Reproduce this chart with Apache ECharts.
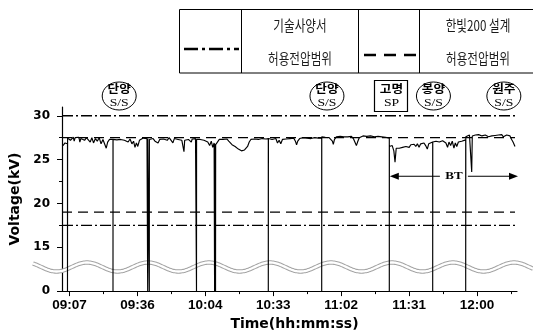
<!DOCTYPE html>
<html><head><meta charset="utf-8">
<script src="https://cdn.jsdelivr.net/npm/echarts@6/dist/echarts.min.js"></script>
<style>html,body{margin:0;padding:0;background:#fff}#c{width:533px;height:336px}</style>
</head><body><div id="c"></div>
<script>
// ---- data (x in minutes after 09:00, y in kV) ----
const xTickMinutes = [7, 35.83, 64.67, 93.5, 122.33, 151.17, 180];
const xTickLabels = ['09:07', '09:36', '10:04', '10:33', '11:02', '11:31', '12:00'];
const xMinorMinutes = [21.42, 50.25, 79.08, 107.92, 136.75, 165.58, 194.42];
const yTickValues = [0, 15, 20, 25, 30];
const yMinorValues = [17.5, 22.5, 27.5];
const specLimits = [30, 17.5];      // 기술사양서 허용전압범위
const hanbitLimits = [27.5, 19];    // 한빛200 설계 허용전압범위
const stationNames = [['단양', 'S/S'], ['단양', 'S/S'], ['고명', 'SP'], ['봉양', 'S/S'], ['원주', 'S/S']];
const stationMinutes = [28.1, 116.3, 143.7, 161.5, 191.4];
const btRange = [142.77, 197.4];
const voltageTrace = [
 [4.24,26.6],[5.1,26.9],[5.9,26.7],[6.15,26.8],[6.15,0],[6.2,27.45],
 [7.0,27.6],[7.4,27.2],[7.8,27.35],[8.6,27.55],[9.0,27.1],[9.4,27.5],[10.2,27.3],[11.0,27.55],[11.4,27.0],[11.8,27.4],[12.6,27.6],[13.4,27.2],
 [14.2,27.5],[15.0,27.45],[15.8,27.0],[16.5,27.5],[17.2,26.9],[18.0,27.4],[18.8,27.1],[19.6,27.5],[20.4,26.8],
 [21.2,27.3],[22.0,27.2],[22.6,26.3],[23.2,27.0],[24.0,27.3],[24.8,27.35],[25.47,27.3],[25.47,0],[25.5,27.3],
 [26.3,27.4],[27.1,27.25],[27.9,27.45],[28.7,27.3],[29.5,27.5],[30.3,27.2],[31.1,27.4],[31.9,27.0],[32.7,27.35],
 [33.5,26.8],[34.2,27.1],[34.8,26.4],[35.4,26.9],[36.0,26.5],[36.7,27.2],[37.5,27.3],[38.3,27.45],[39.1,27.35],
 [39.9,27.4],[40.2,27.4],[40.2,0],[40.25,27.4],[40.5,27.35],[40.88,27.3],[40.88,0],[40.92,27.3],
 [41.7,27.2],[42.5,27.4],[43.3,27.1],[44.1,27.3],[44.6,26.9],[45.3,27.3],[46.1,27.5],[46.9,27.35],[47.7,27.45],
 [48.5,27.2],[49.3,27.5],[50.1,27.4],[50.9,26.9],[51.5,27.4],[52.3,27.5],[53.1,27.3],[53.9,27.45],[54.7,27.2],
 [55.3,27.4],[55.6,25.9],[55.9,27.2],[56.7,27.4],[57.5,27.3],[58.3,27.5],[58.7,27.0],[59.1,27.35],[59.9,27.2],[60.5,27.4],
 [60.92,27.3],[60.92,0],[60.95,27.3],
 [61.7,27.5],[62.5,27.3],[63.3,27.45],[64.1,27.2],[64.9,27.4],[65.7,27.0],[66.5,26.6],[67.2,27.1],[67.8,26.4],
 [68.4,26.9],[68.6,26.7],[68.6,0],[68.65,26.8],[69.0,26.5],[69.0,0],[69.05,26.7],
 [69.8,27.0],[70.6,27.3],[71.4,27.45],[72.2,27.3],[73.0,27.4],[73.8,27.35],[74.6,27.1],[75.4,27.2],[76.0,26.7],
 [76.7,26.9],[77.3,26.5],[78.0,26.6],[78.7,26.2],[79.3,26.4],[80.0,26.0],[80.7,25.8],[81.3,26.1],[81.9,25.9],
 [82.6,26.5],[83.3,27.0],[84.0,27.3],[84.8,27.4],[85.6,27.35],[86.4,27.5],[87.2,27.3],[88.0,27.45],[88.8,27.4],
 [89.6,27.5],[90.4,27.35],[91.4,27.4],[91.4,0],[91.45,27.4],
 [92.2,27.5],[93.0,27.3],[93.8,27.45],[94.6,27.4],[95.3,26.9],[96.0,27.2],[96.7,26.8],[97.4,27.3],[98.2,27.5],
 [99.0,27.35],[99.8,27.45],[100.6,27.4],[101.4,27.3],[102.2,27.45],[102.9,27.1],[103.4,26.7],[103.9,27.1],
 [104.7,27.4],[105.5,27.45],[106.3,27.5],[107.1,27.4],[107.9,27.45],[108.7,27.5],[109.5,27.4],[110.3,27.45],
 [111.1,27.5],[111.9,27.4],[112.7,27.45],[113.4,27.5],[114.07,27.45],[114.07,0],[114.1,27.6],
 [114.8,27.7],[115.6,27.55],[116.4,27.65],[117.2,27.5],[118.0,27.6],[118.6,27.1],[119.0,26.75],[119.5,27.3],
 [120.3,27.6],[121.1,27.5],[121.9,27.65],[122.7,27.55],[123.5,27.6],[124.3,27.45],[125.1,27.6],[125.9,27.5],
 [126.7,27.65],[127.5,27.4],[128.2,27.2],[128.8,26.6],[129.3,27.0],[130.0,27.5],[130.8,27.6],[131.6,27.7],
 [132.4,27.5],[133.2,27.65],[134.0,27.55],[134.8,27.7],[135.6,27.5],[136.4,27.6],[137.2,27.45],[138.0,27.65],
 [138.8,27.5],[139.6,27.6],[140.4,27.4],[141.2,27.55],[142.0,27.5],[142.77,27.45],[142.77,0],[142.8,26.5],
 [143.3,26.4],[144.0,26.6],[144.7,26.0],[145.2,24.7],[145.7,26.3],[146.3,26.5],[147.0,26.3],[147.7,26.5],
 [148.4,26.4],[149.1,26.6],[149.8,26.5],[150.5,26.55],[151.2,26.4],[151.9,26.7],[152.6,26.6],[153.3,26.75],
 [154.0,26.5],[154.7,26.8],[155.4,26.4],[156.1,26.8],[156.8,26.7],[157.5,26.9],[158.2,26.6],[158.9,26.2],
 [159.5,26.8],[160.2,26.9],[161.19,27.0],[161.19,0],[161.22,27.0],
 [161.9,27.2],[162.6,27.1],[163.3,27.25],[164.0,27.0],[164.7,27.2],[165.4,27.15],[166.1,27.3],[166.8,26.9],
 [167.5,26.4],[168.1,27.0],[168.8,26.6],[169.5,27.1],[170.2,26.3],[170.8,26.9],[171.4,26.5],[172.1,27.0],
 [172.8,27.2],[173.5,27.1],[174.2,27.3],[175.2,27.25],[175.2,0],[175.25,27.6],
 [176.0,27.7],[176.8,27.8],[177.5,27.85],[177.75,23.6],[178.0,27.7],[178.6,27.9],[179.3,27.8],[180.0,27.95],
 [180.7,27.85],[181.4,27.9],[182.1,27.7],[182.8,27.9],[183.5,27.8],[184.2,27.85],[184.9,27.6],[185.6,27.8],
 [186.3,27.7],[187.0,27.85],[187.7,27.75],[188.4,27.6],[189.1,27.8],[189.8,27.7],[190.5,27.85],[191.2,27.6],
 [191.9,27.75],[192.6,27.8],[193.3,27.6],[194.0,27.7],[194.7,27.3],[195.3,27.0],[196.13,26.5]
];

// ---- broken axis: 0..15 kV squeezed into 10..15 ----
const brk = v => (v >= 15 ? v : 10 + v / 3);
const X_MIN = 3.82, X_MAX = 196.98, Y_MIN = 10, Y_MAX = 31;
const lineEnd = 196.13;

const chart = echarts.init(document.getElementById('c'), null, {renderer: 'canvas'});
const boldFont = {fontFamily: 'DejaVu Sans', fontWeight: 'bold', color: '#000'};

function limitSeries(values, dash) {
  return values.map(v => ({
    type: 'line', silent: true, symbol: 'none', z: 2,
    data: [[X_MIN, brk(v)], [lineEnd, brk(v)]],
    lineStyle: {color: '#000', width: 1.3, type: dash}
  }));
}

const option = {
  animation: false,
  backgroundColor: '#fff',
  grid: {left: 62, right: 16, top: 107, bottom: 40},
  xAxis: [{
    type: 'value', min: X_MIN, max: X_MAX,
    axisLine: {lineStyle: {color: '#000', width: 1.2}},
    axisTick: {customValues: xTickMinutes, length: 5, lineStyle: {color: '#000'}},
    axisLabel: {customValues: xTickMinutes, margin: 7, fontSize: 13.5, fontFamily: 'Liberation Sans', fontWeight: 'bold', color: '#000',
      formatter: v => { let i = 0, d = 1e9; xTickMinutes.forEach((t, k) => { if (Math.abs(t - v) < d) { d = Math.abs(t - v); i = k; } }); return xTickLabels[i]; }},
    splitLine: {show: false},
    name: 'Time(hh:mm:ss)', nameLocation: 'middle', nameGap: 23,
    nameTextStyle: {fontSize: 14, ...boldFont, padding: [0, 0, 0, 10]}
  }, {
    type: 'value', min: X_MIN, max: X_MAX, position: 'bottom',
    axisLine: {show: false},
    axisTick: {customValues: xMinorMinutes, length: 3, lineStyle: {color: '#000'}},
    axisLabel: {show: false}, splitLine: {show: false}
  }],
  yAxis: [{
    type: 'value', min: Y_MIN, max: Y_MAX,
    axisLine: {show: true, lineStyle: {color: '#000', width: 1.2}},
    axisTick: {show: true, customValues: yTickValues.map(brk), length: 5, lineStyle: {color: '#000'}},
    axisLabel: {customValues: yTickValues.map(brk), margin: 12, fontSize: 12, ...boldFont,
      formatter: v => { const i = yTickValues.map(brk).findIndex(t => Math.abs(t - v) < 1e-6); return i >= 0 ? String(yTickValues[i]) : ''; }},
    splitLine: {show: false},
    name: 'Voltage(kV)', nameLocation: 'middle', nameGap: 37, nameRotate: 90,
    nameTextStyle: {fontSize: 14, ...boldFont}
  }, {
    type: 'value', min: Y_MIN, max: Y_MAX, position: 'left',
    axisLine: {show: false},
    axisTick: {show: true, customValues: yMinorValues.map(brk), length: 3, lineStyle: {color: '#000'}},
    axisLabel: {show: false}, splitLine: {show: false}
  }],
  series: [
    ...limitSeries(specLimits, [11, 3, 2, 3]),
    ...limitSeries(hanbitLimits, [10, 6]),
    {
      type: 'line', symbol: 'none', silent: true, z: 3,
      data: voltageTrace.map(p => [p[0], brk(p[1])]),
      lineStyle: {color: '#000', width: 1.15}
    }
  ]
};
chart.setOption(option);

// ---- decorations (graphic) ----
const px = m => chart.convertToPixel({xAxisIndex: 0}, m);
const py = v => chart.convertToPixel({yAxisIndex: 0}, v);
const g = [];

// axis-break wave
const waveY = py(12.75);
const pts = [];
for (let x = 33; x <= 533; x += 1) pts.push([x, waveY - 4.5 * Math.cos(2 * Math.PI * (x - 148) / 61)]);
g.push({type: 'polyline', z: 1, shape: {points: pts}, style: {stroke: '#a4a4a4', lineWidth: 4.4, fill: null}});
g.push({type: 'polyline', z: 1, shape: {points: pts}, style: {stroke: '#fff', lineWidth: 2.3, fill: null}});

// legend table
g.push({type: 'rect', z: 10, shape: {x: 179.5, y: 9.5, width: 400, height: 63.5}, style: {fill: '#fff', stroke: '#000', lineWidth: 1}});
[241.5, 358.5, 419.5].forEach(x => g.push({type: 'line', z: 11, shape: {x1: x, y1: 9.5, x2: x, y2: 73}, style: {stroke: '#000', lineWidth: 1}}));
g.push({type: 'line', z: 11, shape: {x1: 184, y1: 49, x2: 239, y2: 49}, style: {stroke: '#000', lineWidth: 2.5, lineDash: [14, 4, 3, 4]}});
g.push({type: 'line', z: 11, shape: {x1: 364, y1: 55, x2: 417, y2: 55}, style: {stroke: '#000', lineWidth: 2.5, lineDash: [12, 8]}});
const legTxt = (t, x, y) => ({type: 'text', z: 11, x: x, y: y, scaleX: 0.8,
  style: {text: t, x: 0, y: 0, align: 'center', verticalAlign: 'middle', fontSize: 14.5, fontFamily: 'Noto Sans CJK KR', fill: '#1a1a1a'}});
g.push(legTxt('기술사양서', 300, 25), legTxt('허용전압범위', 300, 58), legTxt('한빛200 설계', 478, 25), legTxt('허용전압범위', 478, 58));

// station labels
stationNames.forEach((nm, i) => {
  const cx = px(stationMinutes[i]), cy = 96;
  if (nm[1] === 'SP') {
    g.push({type: 'rect', z: 10, shape: {x: Math.round(cx) - 16.5, y: 80.5, width: 33, height: 31}, style: {fill: '#fff', stroke: '#000', lineWidth: 1.2}});
  } else {
    g.push({type: 'ellipse', z: 10, shape: {cx: cx, cy: cy, rx: 17, ry: 14}, style: {fill: '#fff', stroke: '#000', lineWidth: 1}});
  }
  g.push({type: 'text', z: 11, x: cx, y: 89, scaleX: 1.15, style: {text: nm[0], x: 0, y: 0, align: 'center', verticalAlign: 'middle', fontSize: 11, fontWeight: 'bold', fontFamily: 'Noto Sans CJK KR', fill: '#000'}});
  g.push({type: 'text', z: 11, x: cx, y: 103.5, scaleX: 1.3, style: {text: nm[1], x: 0, y: 0, align: 'center', verticalAlign: 'middle', fontSize: 10.5, fontFamily: 'Liberation Serif', fill: '#000'}});
});

// BT arrow
const btY = py(23.1), bx1 = px(btRange[0]) + 0.5, bx2 = px(btRange[1]);
const bMid = (bx1 + bx2) / 2;
g.push({type: 'line', z: 11, shape: {x1: bx1 + 6, y1: btY, x2: bMid - 14, y2: btY}, style: {stroke: '#000', lineWidth: 1}});
g.push({type: 'line', z: 11, shape: {x1: bMid + 14, y1: btY, x2: bx2 - 6, y2: btY}, style: {stroke: '#000', lineWidth: 1}});
g.push({type: 'polygon', z: 11, shape: {points: [[bx1, btY], [bx1 + 9, btY - 3.5], [bx1 + 9, btY + 3.5]]}, style: {fill: '#000'}});
g.push({type: 'polygon', z: 11, shape: {points: [[bx2, btY], [bx2 - 9, btY - 3.5], [bx2 - 9, btY + 3.5]]}, style: {fill: '#000'}});
g.push({type: 'text', z: 11, x: bMid, y: btY, scaleX: 1.3, style: {text: 'BT', x: 0, y: 0, align: 'center', verticalAlign: 'middle', fontSize: 10, fontWeight: 'bold', fontFamily: 'Liberation Serif', fill: '#000'}});

chart.setOption({graphic: {elements: g}});
</script>
</body></html>
